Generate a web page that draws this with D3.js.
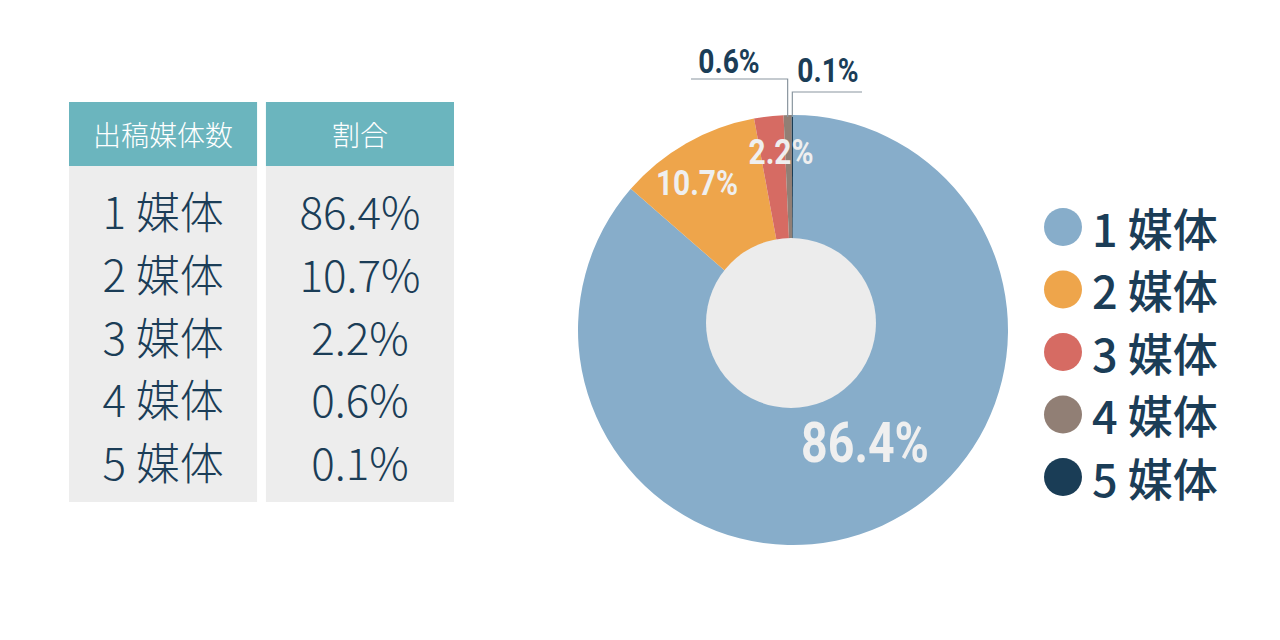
<!DOCTYPE html>
<html>
<head>
<meta charset="utf-8">
<script src="https://cdn.jsdelivr.net/npm/d3@7"></script>
<style>
  body { margin: 0; background: #fff; }
  svg { display: block; }
</style>
</head>
<body>
<div id="chart"></div>
<script>
// data
var categories = ["1 媒体", "2 媒体", "3 媒体", "4 媒体", "5 媒体"];
var values = [86.4, 10.7, 2.2, 0.6, 0.1];
var valueLabels = ["86.4%", "10.7%", "2.2%", "0.6%", "0.1%"];
var headers = ["出稿媒体数", "割合"];
var colors = ["#87adca", "#eea54b", "#d66b63", "#917f75", "#1a3d56"];

var width = 1280, height = 640;
var navy = "#1b3d57";
var jp = "'Noto Sans CJK JP', 'Noto Sans', sans-serif";
var cond = "Roboto, 'Liberation Sans', sans-serif";
var squeeze = 0.83; // condensed look for the pie labels

var svg = d3.select("#chart").append("svg")
  .attr("width", width).attr("height", height);

// ---- table ----
var colX = d3.scaleBand().domain(d3.range(2)).range([69, 454]).paddingInner(0.045);
var rowY = d3.scalePoint().domain(d3.range(categories.length)).range([210, 461]);

var table = svg.append("g");
colX.domain().forEach(function (c) {
  table.append("rect")
    .attr("x", colX(c)).attr("y", 102)
    .attr("width", colX.bandwidth()).attr("height", 64)
    .attr("fill", "#6bb5be");
  table.append("rect")
    .attr("x", colX(c)).attr("y", 166)
    .attr("width", colX.bandwidth()).attr("height", 336)
    .attr("fill", "#ededed");
  table.append("text")
    .attr("x", colX(c) + colX.bandwidth() / 2).attr("y", 134)
    .attr("text-anchor", "middle").attr("dominant-baseline", "central")
    .attr("font-family", jp).attr("font-weight", 300)
    .attr("font-size", 28).attr("fill", "#fff")
    .text(headers[c]);
});

table.selectAll(".cat").data(categories).enter().append("text")
  .attr("x", colX(0) + colX.bandwidth() / 2)
  .attr("y", function (d, i) { return rowY(i); })
  .attr("text-anchor", "middle").attr("dominant-baseline", "central")
  .attr("font-family", jp).attr("font-weight", 300)
  .attr("font-size", 44).attr("fill", navy)
  .text(function (d) { return d; });

table.selectAll(".val").data(valueLabels).enter().append("text")
  .attr("x", colX(1) + colX.bandwidth() / 2)
  .attr("y", function (d, i) { return rowY(i); })
  .attr("text-anchor", "middle").attr("dominant-baseline", "central")
  .attr("font-family", jp).attr("font-weight", 300)
  .attr("font-size", 44).attr("fill", navy)
  .text(function (d) { return d; });

// ---- pie ----
var cx = 793, cy = 330, r = 215;
var pie = d3.pie().sort(null).value(function (d) { return d; });
var arcs = pie(values);
var arc = d3.arc().innerRadius(0).outerRadius(r);

var g = svg.append("g").attr("transform", "translate(" + cx + "," + cy + ")");
g.selectAll("path").data(arcs).enter().append("path")
  .attr("d", arc)
  .attr("fill", function (d, i) { return colors[i]; });

g.append("circle")
  .attr("cx", -2).attr("cy", -7).attr("r", 85)
  .attr("fill", "#ececec");

function condText(x, y, size, fill, txt) {
  svg.append("text")
    .attr("transform", "translate(" + x + "," + y + ") scale(" + squeeze + ",1)")
    .attr("text-anchor", "middle").attr("dominant-baseline", "central")
    .attr("font-family", cond).attr("font-weight", "bold")
    .attr("font-size", size).attr("fill", fill)
    .text(txt);
}

// inside labels
var inside = [
  { i: 0, x: 865, y: 443, size: 56 },
  { i: 1, x: 697, y: 182, size: 36 },
  { i: 2, x: 781, y: 151, size: 36 }
];
inside.forEach(function (d) {
  condText(d.x, d.y, d.size, "#efefef", valueLabels[d.i]);
});

// outside labels with leader lines
function edgePoint(i) {
  var a = (arcs[i].startAngle + arcs[i].endAngle) / 2;
  return [cx + Math.sin(a) * (r - 2), cy - Math.cos(a) * (r - 2)];
}
var outside = [
  { i: 3, lineY: 79, lineX0: 691, tx: 729, ty: 62 },
  { i: 4, lineY: 92, lineX1: 862, tx: 828, ty: 71 }
];
outside.forEach(function (o) {
  var p = edgePoint(o.i);
  var pts = o.lineX0 !== undefined
    ? [[o.lineX0, o.lineY], [p[0], o.lineY], p]
    : [p, [p[0], o.lineY], [o.lineX1, o.lineY]];
  svg.append("path")
    .attr("d", d3.line()(pts))
    .attr("fill", "none").attr("stroke", "#8a969f").attr("stroke-width", 1.2);
  condText(o.tx, o.ty, 34, navy, valueLabels[o.i]);
});

// ---- legend ----
var legY = d3.scalePoint().domain(d3.range(categories.length)).range([227, 477]);
var leg = svg.append("g");
leg.selectAll("circle").data(categories).enter().append("circle")
  .attr("cx", 1063).attr("cy", function (d, i) { return legY(i); })
  .attr("r", 19)
  .attr("fill", function (d, i) { return colors[i]; });
leg.selectAll("text").data(categories).enter().append("text")
  .attr("x", 1092).attr("y", function (d, i) { return legY(i); })
  .attr("dominant-baseline", "central")
  .attr("font-family", jp).attr("font-weight", 500)
  .attr("font-size", 45).attr("fill", navy)
  .text(function (d) { return d; });
</script>
</body>
</html>
